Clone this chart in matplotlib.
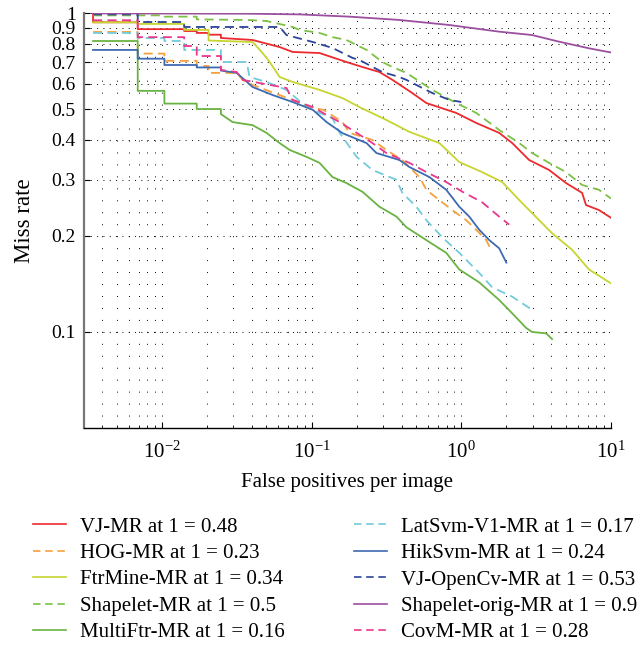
import matplotlib
matplotlib.use('Agg')
import matplotlib.pyplot as plt
from matplotlib.lines import Line2D
from matplotlib.ticker import LogLocator, NullLocator, FixedLocator, FixedFormatter

plt.rcParams['font.family'] = ['Liberation Serif', 'DejaVu Serif']
plt.rcParams['mathtext.fontset'] = 'stix'

# detector curves: false positives per image vs miss rate
vj_x = [0.00347, 0.00347, 0.0069, 0.0069, 0.0141, 0.0141, 0.0171, 0.0171, 0.0205, 0.0205, 0.0248, 0.0248,
        0.0404, 0.0612, 0.0747, 0.113, 0.171, 0.219, 0.284, 0.347, 0.471, 0.585, 0.926, 1.26, 1.79, 2.19,
        2.84, 3.86, 5.01, 6.41, 6.81, 8.32, 10.0]
vj_y = [0.995, 0.935, 0.935, 0.89, 0.89, 0.878, 0.878, 0.866, 0.866, 0.855, 0.855, 0.835,
        0.823, 0.782, 0.755, 0.749, 0.702, 0.677, 0.653, 0.617, 0.561, 0.522, 0.486, 0.452, 0.421, 0.391,
        0.346, 0.322, 0.293, 0.273, 0.25, 0.241, 0.228]

hog_x = [0.00347, 0.0069, 0.0069, 0.0104, 0.0104, 0.0171, 0.0171, 0.0205, 0.0205, 0.0316,
         0.0347, 0.0404, 0.0612, 0.0747, 0.102, 0.12, 0.161, 0.179, 0.255, 0.316,
         0.404, 0.471, 0.525, 0.585, 0.714, 0.871, 1.08, 1.26, 1.47, 1.58]
hog_y = [0.872, 0.872, 0.746, 0.746, 0.708, 0.708, 0.682, 0.682, 0.649, 0.649,
         0.617, 0.595, 0.553, 0.534, 0.504, 0.497, 0.455, 0.421, 0.40, 0.372,
         0.346, 0.322, 0.306, 0.279, 0.259, 0.241, 0.224, 0.209, 0.194, 0.181]

ftrmine_x = [0.00347, 0.0069, 0.0069, 0.0141, 0.0141, 0.0205, 0.0205, 0.0404, 0.0471, 0.0525, 0.0612,
             0.0747, 0.113, 0.161, 0.209, 0.316, 0.45, 0.714, 0.97, 1.38, 1.88, 2.44, 2.97, 4.04, 5.5,
             7.13, 10.0]
ftrmine_y = [0.935, 0.935, 0.924, 0.924, 0.885, 0.885, 0.82, 0.811, 0.749, 0.702, 0.63,
             0.608, 0.574, 0.541, 0.507, 0.462, 0.424, 0.391, 0.341, 0.317, 0.295, 0.259, 0.236, 0.204, 0.181,
             0.157, 0.142]

shapelet_x = [0.00347, 0.0104, 0.0104, 0.0171, 0.0171, 0.037, 0.05, 0.0747, 0.083, 0.113, 0.138, 0.171,
              0.233, 0.297, 0.347, 0.43, 0.641, 0.926, 1.26, 1.79, 2.44, 2.97, 3.86, 5.01, 6.41, 8.32, 10.0]
shapelet_y = [0.983, 0.983, 0.974, 0.974, 0.955, 0.951, 0.944, 0.904, 0.885, 0.866, 0.84, 0.823,
              0.766, 0.702, 0.677, 0.649, 0.574, 0.522, 0.486, 0.43, 0.391, 0.364, 0.339, 0.317, 0.289, 0.279, 0.262]

multiftr_x = [0.00347, 0.0069, 0.0069, 0.0104, 0.0104, 0.0171, 0.0171, 0.0248, 0.0248, 0.0297,
              0.0404, 0.05, 0.0612, 0.0714, 0.0926, 0.113, 0.138, 0.171, 0.219, 0.284,
              0.369, 0.43, 0.585, 0.794, 0.97, 1.32, 1.79, 2.09, 2.71, 2.97, 3.69, 4.04]
multiftr_y = [0.817, 0.817, 0.57, 0.57, 0.52, 0.52, 0.50, 0.50, 0.482, 0.455,
              0.445, 0.421, 0.391, 0.372, 0.354, 0.339, 0.306, 0.293, 0.275, 0.247,
              0.23, 0.213, 0.194, 0.177, 0.157, 0.143, 0.126, 0.117, 0.103, 0.1, 0.099, 0.095]

latsvm_x = [0.00347, 0.0069, 0.0069, 0.0104, 0.0104, 0.0141, 0.0141, 0.0248, 0.0248, 0.0369,
            0.0385, 0.05, 0.068, 0.079, 0.092, 0.113, 0.138, 0.154, 0.2, 0.255,
            0.369, 0.404, 0.501, 0.585, 0.747, 0.97, 1.32, 1.61, 2.19, 3.0]
latsvm_y = [0.866, 0.866, 0.835, 0.835, 0.817, 0.817, 0.766, 0.766, 0.702, 0.702,
            0.63, 0.608, 0.574, 0.541, 0.507, 0.486, 0.468, 0.421, 0.354, 0.322,
            0.30, 0.273, 0.247, 0.224, 0.198, 0.177, 0.153, 0.138, 0.129, 0.117]

hiksvm_x = [0.00347, 0.0069, 0.0069, 0.0104, 0.0104, 0.0171, 0.0171, 0.0248, 0.0248, 0.0316,
            0.0404, 0.055, 0.0747, 0.102, 0.126, 0.161, 0.233, 0.271, 0.386, 0.45,
            0.612, 0.794, 0.97, 1.13, 1.32, 1.54, 1.79, 2.0]
hiksvm_y = [0.766, 0.766, 0.719, 0.719, 0.687, 0.687, 0.675, 0.675, 0.66, 0.649,
            0.586, 0.553, 0.526, 0.497, 0.455, 0.42, 0.391, 0.364, 0.346, 0.329,
            0.306, 0.279, 0.247, 0.23, 0.209, 0.194, 0.183, 0.165]

opencv_x = [0.00347, 0.0069, 0.0069, 0.0141, 0.0141, 0.0612, 0.068, 0.102, 0.138, 0.188, 0.209,
            0.297, 0.386, 0.43, 0.641, 0.832, 1.0]
opencv_y = [0.99, 0.99, 0.937, 0.937, 0.904, 0.904, 0.853, 0.811, 0.777, 0.723, 0.712,
            0.653, 0.63, 0.617, 0.561, 0.534, 0.526]

orig_x = [0.00347, 0.037, 0.083, 0.179, 0.386, 0.832, 1.08, 1.79, 2.97, 4.5, 7.13, 10.0]
orig_y = [0.997, 0.995, 0.99, 0.974, 0.951, 0.917, 0.902, 0.874, 0.853, 0.813, 0.775, 0.752]

covm_x = [0.00347, 0.0069, 0.0069, 0.0141, 0.0141, 0.0171, 0.0171, 0.0248, 0.0248, 0.0316, 0.0347,
          0.068, 0.0747, 0.102, 0.126, 0.154, 0.2, 0.255, 0.316, 0.45, 0.585, 0.794, 1.02, 1.38,
          1.79, 2.09]
covm_y = [0.949, 0.949, 0.84, 0.84, 0.788, 0.788, 0.733, 0.733, 0.663, 0.653, 0.617,
          0.582, 0.534, 0.507, 0.479, 0.455, 0.421, 0.391, 0.364, 0.339, 0.317, 0.295, 0.275, 0.255,
          0.23, 0.217]

labels = ['VJ-MR at 1 = 0.48', 'HOG-MR at 1 = 0.23', 'FtrMine-MR at 1 = 0.34',
          'Shapelet-MR at 1 = 0.5', 'MultiFtr-MR at 1 = 0.16', 'LatSvm-V1-MR at 1 = 0.17',
          'HikSvm-MR at 1 = 0.24', 'VJ-OpenCv-MR at 1 = 0.53', 'Shapelet-orig-MR at 1 = 0.9',
          'CovM-MR at 1 = 0.28']
curves = [(vj_x, vj_y), (hog_x, hog_y), (ftrmine_x, ftrmine_y), (shapelet_x, shapelet_y),
          (multiftr_x, multiftr_y), (latsvm_x, latsvm_y), (hiksvm_x, hiksvm_y),
          (opencv_x, opencv_y), (orig_x, orig_y), (covm_x, covm_y)]
colors = ['#ec2a2e', '#f6a13b', '#c6d52f', '#7cc144', '#6ab343', '#72cbdc', '#3e6ab2',
          '#2c449a', '#9c4f9f', '#e8388c']
dashed = [False, True, False, True, False, True, False, True, False, True]

fig = plt.figure(figsize=(6.43, 6.45), dpi=100)
ax = fig.add_axes([84 / 643, 1 - 428 / 645, (611 - 84) / 643, (428 - 13) / 645])
ax.set_xscale('log')
ax.set_yscale('log')

for (xs, ys), c, d in zip(curves, colors, dashed):
    ax.plot(xs, ys, color=c, lw=1.3, ls=(0, (5, 3)) if d else '-')

ax.set_xlim(10 ** -2.52, 10)
ax.set_ylim(0.05, 1)

yt = [0.1, 0.2, 0.3, 0.4, 0.5, 0.6, 0.7, 0.8, 0.9, 1]
ax.yaxis.set_major_locator(FixedLocator(yt))
ax.yaxis.set_major_formatter(FixedFormatter(['0.1', '0.2', '0.3', '0.4', '0.5', '0.6', '0.7', '0.8', '0.9', '1']))
ax.yaxis.set_minor_locator(NullLocator())
ax.xaxis.set_major_locator(LogLocator(base=10))
ax.xaxis.set_minor_locator(LogLocator(base=10, subs=range(2, 10)))

ax.grid(axis='x', which='both', color='k', lw=0.7, ls=(0, (1, 11.3)))
ax.grid(axis='y', which='major', color='k', lw=0.7, ls=(0, (1, 5.5)))
ax.set_axisbelow(True)

ax.tick_params(which='both', direction='in', top=False, right=False)
ax.tick_params(axis='x', labelsize=15, pad=10)
ax.tick_params(axis='y', labelsize=14, pad=6)
ax.tick_params(which='major', length=4, width=0.8)
ax.tick_params(which='minor', length=2.5, width=0.6)

ax.spines['top'].set_visible(False)
ax.spines['right'].set_visible(False)
ax.spines['left'].set_color('#777777')
ax.spines['left'].set_linewidth(1.6)
ax.spines['bottom'].set_color('black')
ax.spines['bottom'].set_linewidth(1.0)

ax.set_xlabel('False positives per image', fontsize=15, labelpad=7)
ax.set_ylabel('Miss rate', fontsize=16.5, labelpad=12)

handles = [Line2D([], [], color=c, lw=1.2, ls=(0, (4.5, 2.8)) if d else '-')
           for c, d in zip(colors, dashed)]
fig.legend(handles, labels, ncol=2, loc='upper left', bbox_to_anchor=(33 / 643, 1 - 517 / 645),
           frameon=False, fontsize=15, handlelength=1.58, handletextpad=0.67,
           columnspacing=3.35, labelspacing=0.33, borderpad=0, borderaxespad=0)

fig.savefig('out.png', dpi=100)
